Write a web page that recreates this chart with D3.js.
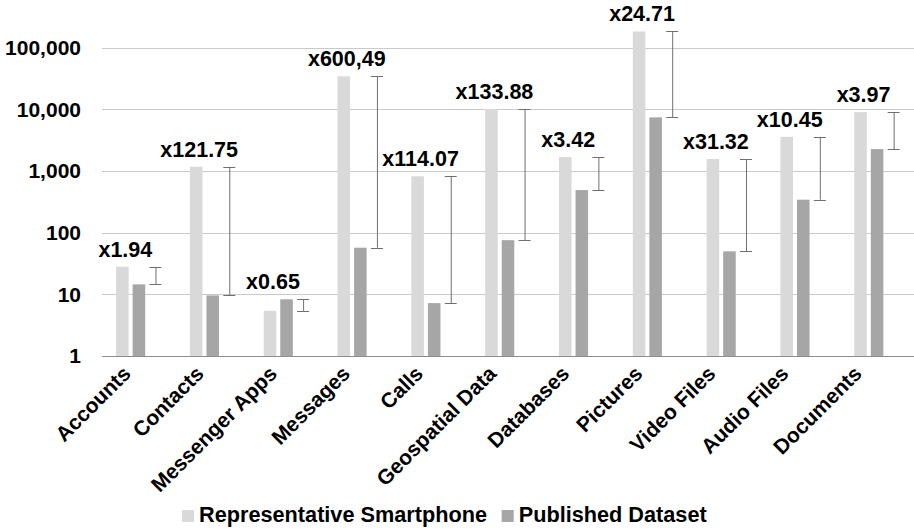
<!DOCTYPE html>
<html>
<head>
<meta charset="utf-8">
<script src="https://cdn.jsdelivr.net/npm/d3@7"></script>
<style>
  body { margin: 0; background: #fff; }
  svg { display: block; font-family: "Liberation Sans", Arial, sans-serif; font-weight: bold; }
</style>
</head>
<body>
<svg id="chart" width="914" height="530"></svg>
<script>
// data
const categories = ["Accounts", "Contacts", "Messenger Apps", "Messages", "Calls", "Geospatial Data",
  "Databases", "Pictures", "Video Files", "Audio Files", "Documents"]
const representative = [28, 1169, 5.4, 34228, 821, 10108, 1676, 182600, 1560, 3574, 8990]
const published = [14.5, 9.6, 8.3, 57, 7.2, 75.5, 490, 7390, 49.8, 342, 2264]
const ratioLabels = ["x1.94", "x121.75", "x0.65", "x600,49", "x114.07", "x133.88",
  "x3.42", "x24.71", "x31.32", "x10.45", "x3.97"]
const yTicks = [1, 10, 100, 1000, 10000, 100000]
const seriesNames = ["Representative Smartphone", "Published Dataset"]
const seriesColors = ["#d9d9d9", "#a6a6a6"]

const rows = categories.map((c, i) => ({
  cat: c, rep: representative[i], pub: published[i], label: ratioLabels[i]
}))

const svg = d3.select("#chart")
const plotLeft = 102, plotRight = 914, plotTop = 47.6, plotBottom = 356

const y = d3.scaleLog().domain([1, 100000]).range([plotBottom, plotTop])
const x = d3.scaleBand().domain(categories).range([plotLeft, plotRight])
// third slot holds the error bar (Excel puts it on an empty series)
const xs = d3.scaleBand().domain(["rep", "pub", "err"]).range([0, x.bandwidth()])
  .paddingInner(0.242).paddingOuter(0.85)
// tick labels sit on a slightly tighter pitch than the bars
const xLabel = d3.scaleBand().domain(categories).range([plotLeft - 6.6, plotRight - 14.5])

// gridlines
svg.append("g")
  .selectAll("line")
  .data(yTicks.slice(1))
  .join("line")
  .attr("x1", plotLeft).attr("x2", plotRight)
  .attr("y1", d => Math.round(y(d)) + 0.5).attr("y2", d => Math.round(y(d)) + 0.5)
  .attr("stroke", "#c9c9c9").attr("stroke-width", 1.2)

// y axis labels
const yAxis = svg.append("g")
  .attr("transform", `translate(${plotLeft},0)`)
  .call(d3.axisLeft(y).tickValues(yTicks).tickFormat(d3.format(",")).tickSize(0).tickPadding(21))
yAxis.select(".domain").remove()
yAxis.selectAll("text")
  .attr("font-size", 21).attr("font-family", null).attr("fill", "#000")

// bars
const groups = svg.append("g")
  .selectAll("g")
  .data(rows)
  .join("g")
  .attr("transform", d => `translate(${x(d.cat)},0)`)

groups.append("rect")
  .attr("x", xs("rep")).attr("width", xs.bandwidth())
  .attr("y", d => y(d.rep)).attr("height", d => plotBottom - y(d.rep))
  .attr("fill", seriesColors[0])

groups.append("rect")
  .attr("x", xs("pub")).attr("width", xs.bandwidth())
  .attr("y", d => y(d.pub)).attr("height", d => plotBottom - y(d.pub))
  .attr("fill", seriesColors[1])

// error bars spanning published -> representative
const ex = xs("err") + xs.bandwidth() / 2
groups.append("line")
  .attr("x1", ex + 0.5).attr("x2", ex + 0.5)
  .attr("y1", d => y(d.rep)).attr("y2", d => y(d.pub))
  .attr("stroke", "#6f6f6f").attr("stroke-width", 1)
groups.selectAll("line.cap")
  .data(d => [d.rep, d.pub])
  .join("line")
  .attr("class", "cap")
  .attr("x1", ex - 6).attr("x2", ex + 6)
  .attr("y1", d => Math.round(y(d)) + 0.5).attr("y2", d => Math.round(y(d)) + 0.5)
  .attr("stroke", "#6f6f6f").attr("stroke-width", 1)

// ratio labels
groups.append("text")
  .attr("x", xs("rep") + xs.bandwidth() / 2 + 3)
  .attr("y", d => y(Math.max(d.rep, d.pub)) - 10)
  .attr("text-anchor", "middle")
  .attr("font-size", 21.5)
  .text(d => d.label)

// axis line
svg.append("line")
  .attr("x1", plotLeft).attr("x2", plotRight)
  .attr("y1", plotBottom + 0.5).attr("y2", plotBottom + 0.5)
  .attr("stroke", "#8c8c8c").attr("stroke-width", 1.2)

// category labels, rotated
svg.append("g")
  .selectAll("text")
  .data(categories)
  .join("text")
  .attr("transform", d => `translate(${xLabel(d) + xLabel.bandwidth() / 2},${plotBottom + 19}) rotate(-45)`)
  .attr("text-anchor", "end")
  .attr("font-size", 21)
  .text(d => d)

// legend
const legend = svg.append("g")
const legendX = [182, 501.7]
seriesNames.forEach((name, i) => {
  legend.append("rect")
    .attr("x", legendX[i]).attr("y", 510)
    .attr("width", 12).attr("height", 12)
    .attr("fill", seriesColors[i])
  legend.append("text")
    .attr("x", legendX[i] + 17).attr("y", 522)
    .attr("font-size", 21.7)
    .text(name)
})
</script>
</body>
</html>
